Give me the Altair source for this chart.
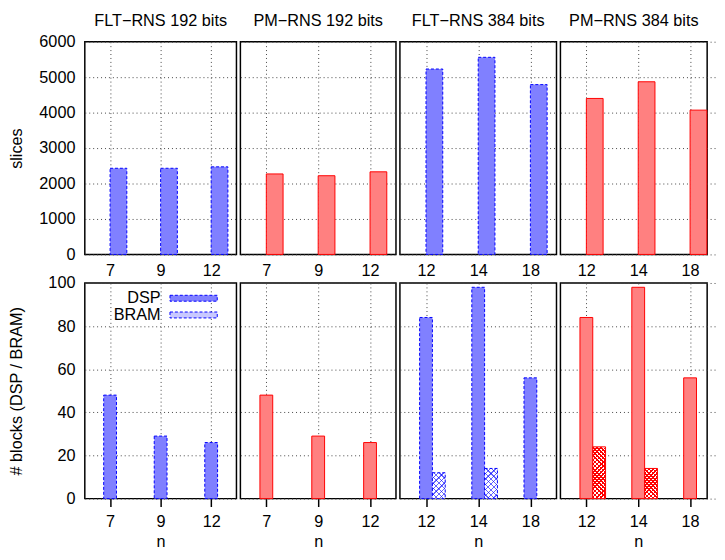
import altair as alt
import pandas as pd

# ---------------- data ----------------
n_192 = ["7", "9", "12"]
n_384 = ["12", "14", "18"]
panel_titles = ["FLT−RNS 192 bits", "PM−RNS 192 bits", "FLT−RNS 384 bits", "PM−RNS 384 bits"]

slices_flt192 = [2430, 2430, 2470]
slices_pm192 = [2270, 2220, 2330]
slices_flt384 = [5230, 5560, 4790]
slices_pm384 = [4400, 4870, 4070]

dsp_flt192 = [48, 29, 26]
dsp_pm192 = [48, 29, 26]
dsp_flt384 = [84, 98, 56]
dsp_pm384 = [84, 98, 56]

bram_flt192 = [0, 0, 0]
bram_pm192 = [0, 0, 0]
bram_flt384 = [12, 14, 0]
bram_pm384 = [24, 14, 0]

slice_ticks = [0, 1000, 2000, 3000, 4000, 5000, 6000]
block_ticks = [0, 20, 40, 60, 80, 100]
legend_names = ["DSP", "BRAM"]

# ---------------- style ----------------
FONT = "Liberation Sans"
FS = 16.5
BLUE_FILL, BLUE = "#8080ff", "#0000ff"
RED_FILL, RED = "#ff8080", "#ff0000"
WIDTHS = [154, 158, 159, 149]      # last panel is cut by the page edge
RANGES = [154, 158, 159, 158]      # x-scale extent of each panel
H_TOP, H_BOT = 216, 219
GRID = dict(grid=True, gridColor="#444444", gridDash=[1, 3], gridWidth=1)
TOP_BAR_W, BOT_BAR_W = 17, 13


def xenc(i, dom, bottom):
    if bottom:
        ax = alt.Axis(title="n", labelAngle=0, domain=False, ticks=True, tickSize=8,
                      tickColor="black", tickWidth=1.5, labelPadding=7, titlePadding=4, **GRID)
    else:
        ax = alt.Axis(title=None, labelAngle=0, domain=False, ticks=False, labelPadding=8, **GRID)
    return alt.X("n:O", sort=dom,
                 scale=alt.Scale(type="point", domain=dom, padding=0.5, range=[0, RANGES[i]]),
                 axis=ax)


def yenc(top, first):
    dom = [0, 6000] if top else [0, 100]
    vals = slice_ticks if top else block_ticks
    if first:
        ax = alt.Axis(title="slices" if top else "# blocks (DSP / BRAM)", values=vals, format="d",
                      domain=False, ticks=False, labelPadding=10, titleX=-61, **GRID)
    else:
        ax = alt.Axis(title=None, values=vals, labels=False, domain=False, ticks=False, **GRID)
    return alt.Y("v:Q", scale=alt.Scale(domain=dom, nice=False, zero=True), axis=ax)


def style(blue):
    if blue:
        return dict(fill=BLUE_FILL, stroke=BLUE, strokeWidth=1, strokeDash=[3, 2])
    return dict(fill=RED_FILL, stroke=RED, strokeWidth=1)


def hatch(w, h, color, period, thick, direction):
    k = (w + h) / (w * w + h * h)
    if direction == 1:
        x1, y1, x2, y2 = 0, 0, k * w, k * h
    else:
        x1, y1, x2, y2 = 1, 0, 1 - k * w, k * h
    step = period / (w + h)
    f = thick / period
    stops = []
    s = 0.0
    clear = "rgba(255,255,255,0)"
    while s < 1:
        a = min(s + f * step, 1)
        b = min(s + step, 1)
        stops += [alt.GradientStop(offset=s, color=color), alt.GradientStop(offset=a, color=color),
                  alt.GradientStop(offset=a, color=clear), alt.GradientStop(offset=b, color=clear)]
        s += step
    return alt.LinearGradient(gradient="linear", stops=stops, x1=x1, y1=y1, x2=x2, y2=y2)


def top_panel(i, ns, vals, blue):
    df = pd.DataFrame({"n": ns, "v": vals})
    c = alt.Chart(df).mark_bar(width=TOP_BAR_W, xOffset=TOP_BAR_W / 2, **style(blue)).encode(
        x=xenc(i, ns, False), y=yenc(True, i == 0))
    # first panel's title sits above the overhanging "6000" label, so it needs less offset
    off = 4.5 if i == 0 else 12.5
    return c.properties(width=WIDTHS[i], height=H_TOP,
                        title=alt.TitleParams(panel_titles[i], font=FONT, fontSize=FS,
                                              fontWeight="normal", offset=off, anchor="middle",
                                              frame="group"))


def bottom_panel(i, ns, dsp, bram, blue):
    df = pd.DataFrame({"n": ns, "v": dsp, "type": ["DSP"] * len(ns)})
    st = style(blue)
    enc = dict(x=xenc(i, ns, True), y=yenc(False, i == 0))
    if i == 0:
        st.pop("fill")
        enc["fill"] = alt.Fill(
            "type:N",
            scale=alt.Scale(domain=legend_names, range=[BLUE_FILL, "#c8c8ff"]),
            legend=alt.Legend(title=None, orient="none", legendX=60, legendY=7, direction="vertical",
                              symbolType="M2.25,-0.375L8.25,-0.375L8.25,0.375L2.25,0.375Z",
                              symbolSize=256,
                              symbolStrokeColor=BLUE, symbolStrokeWidth=1, symbolDash=[3, 2],
                              labelAlign="right", labelOffset=0,
                              labelFont=FONT, labelFontSize=FS,
                              labelColor="black", rowPadding=0, padding=0,
                              symbolOpacity=1))
    layers = [alt.Chart(df).mark_bar(width=BOT_BAR_W, **st).encode(**enc)]
    col = BLUE if blue else RED
    for n, b in zip(ns, bram):
        if b <= 0:
            continue
        dfb = pd.DataFrame({"n": [n], "v": [b]})
        h = b / 100 * H_BOT
        benc = dict(x=xenc(i, ns, True), y=yenc(False, i == 0))
        base_st = dict(fill="white", stroke=col, strokeWidth=1)
        if blue:
            base_st["strokeDash"] = [3, 2]
            hc, per, th = "rgba(0,0,255,0.6)", 5.5, 1.2
        else:
            hc, per, th = RED, 4.2, 1.7
        layers.append(alt.Chart(dfb).mark_bar(width=BOT_BAR_W, xOffset=BOT_BAR_W, **base_st).encode(**benc))
        for d in (1, -1):
            layers.append(alt.Chart(dfb).mark_bar(width=BOT_BAR_W, xOffset=BOT_BAR_W,
                                                  fill=hatch(BOT_BAR_W, h, hc, per, th, d)).encode(**benc))
    return alt.layer(*layers).properties(width=WIDTHS[i], height=H_BOT)


panels = [
    top_panel(0, n_192, slices_flt192, True),
    top_panel(1, n_192, slices_pm192, False),
    top_panel(2, n_384, slices_flt384, True),
    top_panel(3, n_384, slices_pm384, False),
    bottom_panel(0, n_192, dsp_flt192, bram_flt192, True),
    bottom_panel(1, n_192, dsp_pm192, bram_pm192, False),
    bottom_panel(2, n_384, dsp_flt384, bram_flt384, True),
    bottom_panel(3, n_384, dsp_pm384, bram_pm384, False),
]

chart = alt.concat(*panels, columns=4, spacing={"row": 29, "column": 4}, bounds="flush").resolve_scale(
    fill="independent"
).properties(
    padding=0
).configure_view(
    stroke="black", strokeWidth=1.5
).configure_axis(
    labelFont=FONT, labelFontSize=FS, labelColor="black",
    titleFont=FONT, titleFontSize=FS, titleFontWeight="normal", titleColor="black",
)

chart.save("out.html", embed_options={"renderer": "svg", "actions": False})
